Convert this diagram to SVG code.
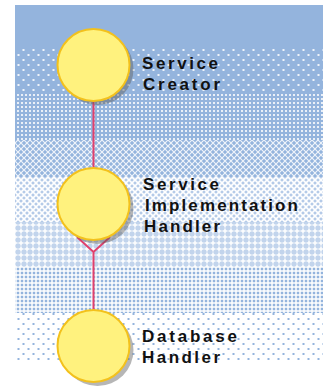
<svg xmlns="http://www.w3.org/2000/svg" width="327" height="386" viewBox="0 0 327 386">
  <style>
    .disc{fill:#fff27e;stroke:#f3c11c;stroke-width:2}
    .shadow{fill:#5e5e5e;opacity:0.45}
    .label{font-family:"Liberation Sans",Arial,sans-serif;font-size:17px;font-weight:bold;fill:#111}
    .link{stroke:#e0406c;stroke-width:2;fill:none}
  </style>
  <defs>
    <!-- sparse white dots on blue -->
    <pattern id="pA" width="10" height="10" patternUnits="userSpaceOnUse" x="0" y="49">
      <rect width="10" height="10" fill="#94b4dd"/>
      <rect x="2.5" y="0" width="2" height="2" fill="#fff" opacity="0.85"/>
      <rect x="7.5" y="5" width="2" height="2" fill="#fff" opacity="0.85"/>
    </pattern>
    <!-- dense white dot grid on blue -->
    <pattern id="pB" width="4" height="4" patternUnits="userSpaceOnUse" x="0" y="93">
      <rect width="4" height="4" fill="#94b4dd"/>
      <rect x="1" y="1" width="2" height="2" fill="#fff" opacity="0.8"/>
    </pattern>
    <!-- white diagonal lattice on blue -->
    <pattern id="pC" width="6" height="6" patternUnits="userSpaceOnUse" x="0" y="140">
      <rect width="6" height="6" fill="#94b4dd"/>
      <path d="M0,0 L6,6 M6,0 L0,6" stroke="#fff" stroke-width="1.2" opacity="0.85"/>
    </pattern>
    <!-- half-tone mix -->
    <pattern id="pD" width="6" height="6" patternUnits="userSpaceOnUse" x="0" y="177">
      <rect width="6" height="6" fill="#b4cae8"/>
      <path d="M0,0 L6,6 M6,0 L0,6" stroke="#fff" stroke-width="1.6"/>
    </pattern>
    <!-- white crosses on light blue -->
    <pattern id="pE" width="6" height="6" patternUnits="userSpaceOnUse" x="0" y="222">
      <rect width="6" height="6" fill="#c2d4ec"/>
      <path d="M3,0.5 V5.5 M0.5,3 H5.5" stroke="#fff" stroke-width="1.5"/>
    </pattern>
    <!-- dense blue dot grid on white -->
    <pattern id="pF" width="4" height="4" patternUnits="userSpaceOnUse" x="0" y="267">
      <rect width="4" height="4" fill="#fff"/>
      <rect x="0.75" y="0.75" width="2.5" height="2.5" fill="#94b4dd"/>
    </pattern>
    <!-- sparse blue dots on white -->
    <pattern id="pG" width="10" height="10" patternUnits="userSpaceOnUse" x="0" y="313">
      <rect width="10" height="10" fill="#fff"/>
      <rect x="2.5" y="0" width="2" height="2" fill="#94b4dd"/>
      <rect x="7.5" y="5" width="2" height="2" fill="#94b4dd"/>
    </pattern>
  </defs>

  <rect width="327" height="386" fill="#fff"/>

  <!-- backdrop: solid blue fading through dither bands to white -->
  <g id="backdrop">
    <rect x="15" y="5" width="308" height="44" fill="#94b4dd"/>
    <rect x="15" y="49" width="308" height="44" fill="url(#pA)"/>
    <rect x="15" y="93" width="308" height="47" fill="url(#pB)"/>
    <rect x="15" y="140" width="308" height="37" fill="url(#pC)"/>
    <rect x="15" y="177" width="308" height="45" fill="url(#pD)"/>
    <rect x="15" y="222" width="308" height="45" fill="url(#pE)"/>
    <rect x="15" y="267" width="308" height="46" fill="url(#pF)"/>
    <rect x="15" y="313" width="308" height="47" fill="url(#pG)"/>
  </g>

  <g id="connectors">
    <line class="link" x1="93.5" y1="100" x2="93.5" y2="169"/>
    <path class="link" d="M77,237 L93.5,252 L110,237 M93.5,252 V311"/>
  </g>

  <g id="service-creator">
    <circle class="shadow" cx="97.5" cy="69" r="36"/>
    <circle class="disc" cx="93.5" cy="65" r="36"/>
    <text class="label" x="142" y="69" textLength="76" lengthAdjust="spacing">Service</text>
    <text class="label" x="143" y="90" textLength="77" lengthAdjust="spacing">Creator</text>
  </g>

  <g id="service-implementation-handler">
    <circle class="shadow" cx="97.5" cy="208" r="36"/>
    <circle class="disc" cx="93.5" cy="204" r="36"/>
    <text class="label" x="143" y="190" textLength="76" lengthAdjust="spacing">Service</text>
    <text class="label" x="145" y="211" textLength="153" lengthAdjust="spacing">Implementation</text>
    <text class="label" x="144" y="232" textLength="76" lengthAdjust="spacing">Handler</text>
  </g>

  <g id="database-handler">
    <circle class="shadow" cx="97.5" cy="350" r="36"/>
    <circle class="disc" cx="93.5" cy="346" r="36"/>
    <text class="label" x="142" y="342" textLength="95" lengthAdjust="spacing">Database</text>
    <text class="label" x="142" y="363" textLength="78" lengthAdjust="spacing">Handler</text>
  </g>
</svg>
